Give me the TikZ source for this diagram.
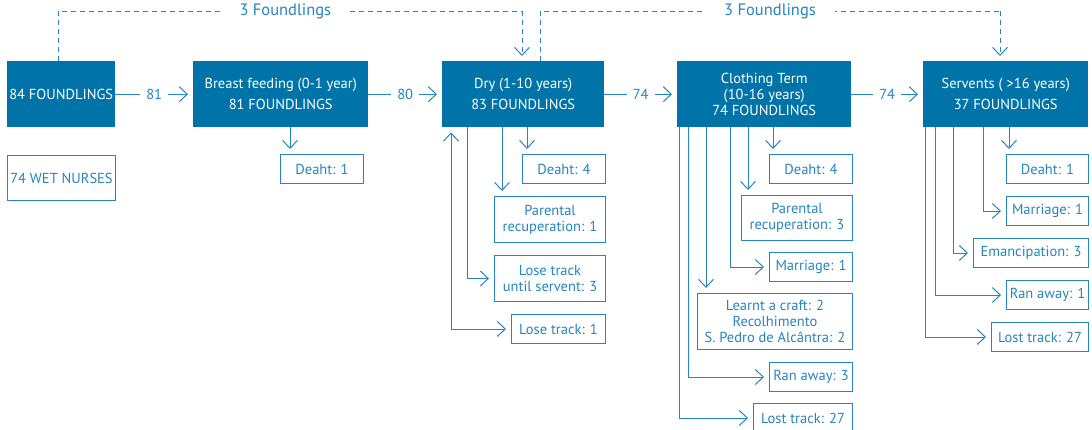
\documentclass[tikz,border=0pt]{standalone}
\usepackage{fontspec}
\setmainfont{PT Sans}
\usetikzlibrary{arrows.meta}
\definecolor{boxfill}{HTML}{0073A8}
\definecolor{ln}{HTML}{2585BD}
\begin{document}
\begin{tikzpicture}[x=1pt,y=-1pt,
  font=\fontsize{14.5}{16}\selectfont,
  mainbox/.style={fill=boxfill, draw=none, text=white, inner sep=0pt, anchor=north west, align=center},
  subbox/.style={draw=ln, line width=1pt, text=ln, fill=white, inner sep=0pt, anchor=north west, align=center},
  arr/.style={draw=ln, line width=1pt, -{Straight Barb[length=8pt,width=15pt,line width=1pt]}, shorten >=5pt},
  darr/.style={draw=ln, line width=1pt, {Straight Barb[length=8pt,width=15pt,line width=1pt]}-{Straight Barb[length=8pt,width=15pt,line width=1pt]}, shorten >=5pt, shorten <=5pt},
  dsh/.style={draw=ln, line width=1pt, dash pattern=on 5pt off 4pt},
  lbl/.style={fill=white, text=ln, inner xsep=6pt, inner ysep=2pt},
  toplbl/.style={fill=white, text=ln, inner xsep=19pt, font=\fontsize{16.5}{18}\selectfont}
]
\useasboundingbox (0,0) rectangle (1092,429);

% main boxes
\node[mainbox, minimum width=108, minimum height=66] (A) at (7,61) {84 FOUNDLINGS};
\node[subbox, minimum width=108, minimum height=45] (W) at (7,155) {74 WET NURSES};
\node[mainbox, minimum width=175, minimum height=66] (B) at (193,61) {Breast feeding (0-1 year)\\[5pt]81 FOUNDLINGS};
\node[mainbox, minimum width=162, minimum height=66] (C) at (442,61) {Dry (1-10 years)\\[5pt]83 FOUNDLINGS};
\node[mainbox, minimum width=174, minimum height=66] (D) at (677,61) {Clothing Term\\(10-16 years)\\74 FOUNDLINGS};
\node[mainbox, minimum width=165, minimum height=66] (E) at (923,61) {Servents ( >16 years)\\[5pt]37 FOUNDLINGS};

% sub boxes
\node[subbox, minimum width=83, minimum height=29] (B1) at (280,154) {Deaht: 1};

\node[subbox, minimum width=83, minimum height=29] (C1) at (522,154) {Deaht: 4};
\node[subbox, minimum width=111, minimum height=46] (C2) at (494,196) {Parental\\recuperation: 1};
\node[subbox, minimum width=111, minimum height=46] (C3) at (494,255) {Lose track\\until servent: 3};
\node[subbox, minimum width=94, minimum height=29] (C4) at (511,314) {Lose track: 1};

\node[subbox, minimum width=83, minimum height=29] (D1) at (769,154) {Deaht: 4};
\node[subbox, minimum width=111, minimum height=45] (D2) at (741,195) {Parental\\recuperation: 3};
\node[subbox, minimum width=83, minimum height=29] (D3) at (769,252) {Marriage: 1};
\node[subbox, minimum width=155, minimum height=56] (D4) at (697,293) {Learnt a craft: 2\\Recolhimento\\S. Pedro de Alcântra: 2};
\node[subbox, minimum width=83, minimum height=29] (D5) at (769,362) {Ran away: 3};
\node[subbox, minimum width=99, minimum height=29] (D6) at (753,403) {Lost track: 27};

\node[subbox, minimum width=82, minimum height=29] (E1) at (1006,154) {Deaht: 1};
\node[subbox, minimum width=82, minimum height=29] (E2) at (1006,196) {Marriage: 1};
\node[subbox, minimum width=115, minimum height=29] (E3) at (973,238) {Emancipation: 3};
\node[subbox, minimum width=82, minimum height=29] (E4) at (1006,280) {Ran away: 1};
\node[subbox, minimum width=97, minimum height=29] (E5) at (991,322) {Lost track: 27};

% x positions of connectors
\coordinate (xa) at (58,0);
\coordinate (xcin) at (522,0);
\coordinate (xcout) at (540,0);
\coordinate (xein) at (1000,0);
\coordinate (ytop) at (0,11);
\coordinate (xb1) at (290,0);
\coordinate (xc1) at (527,0);
\coordinate (xc2) at (502,0);
\coordinate (xc3) at (467,0);
\coordinate (xc4) at (451,0);
\coordinate (xd1) at (773,0);
\coordinate (xd2) at (748,0);
\coordinate (xd3) at (730,0);
\coordinate (xd4) at (706,0);
\coordinate (xd5) at (688,0);
\coordinate (xd6) at (679,0);
\coordinate (xe1) at (1009,0);
\coordinate (xe2) at (983,0);
\coordinate (xe3) at (953,0);
\coordinate (xe4) at (935,0);
\coordinate (xe5) at (925,0);

% main flow
\draw[arr] (A.east) -- node[lbl] {81} (B.west);
\draw[arr] (B.east) -- node[lbl] {80} (C.west);
\draw[arr] (C.east) -- node[lbl] {74} (D.west);
\draw[arr] (D.east) -- node[lbl] {74} (E.west);

% dashed returns
\coordinate (d1a) at (xa |- ytop);
\coordinate (d1b) at (xcin |- ytop);
\draw[dsh] (A.north -| xa) -- (d1a) -- node[toplbl, pos=0.49] {3 Foundlings} (d1b);
\draw[dsh, arr] (d1b) -- (C.north -| xcin);
\coordinate (d2a) at (xcout |- ytop);
\coordinate (d2b) at (xein |- ytop);
\draw[dsh] (C.north -| xcout) -- (d2a) -- node[toplbl, pos=0.5] {3 Foundlings} (d2b);
\draw[dsh, arr] (d2b) -- (E.north -| xein);

% breast feeding
\draw[arr] (B.south -| xb1) -- (B1.north -| xb1);

% dry
\draw[arr] (C.south -| xc1) -- (C1.north -| xc1);
\draw[arr] (C.south -| xc2) -- (C2.north -| xc2);
\draw[arr] (C.south -| xc3) |- (C3.west);
\draw[darr] (C.south -| xc4) |- (C4.west);

% clothing
\draw[arr] (D.south -| xd1) -- (D1.north -| xd1);
\draw[arr] (D.south -| xd2) -- (D2.north -| xd2);
\draw[arr] (D.south -| xd3) |- (D3.west);
\draw[arr] (D.south -| xd4) -- (D4.north -| xd4);
\draw[arr] (D.south -| xd5) |- (D5.west);
\draw[arr] (D.south -| xd6) |- (D6.west);

% servents
\draw[arr] (E.south -| xe1) -- (E1.north -| xe1);
\draw[arr] (E.south -| xe2) |- (E2.west);
\draw[arr] (E.south -| xe3) |- (E3.west);
\draw[arr] (E.south -| xe4) |- (E4.west);
\draw[arr] (E.south -| xe5) |- (E5.west);
\end{tikzpicture}
\end{document}
